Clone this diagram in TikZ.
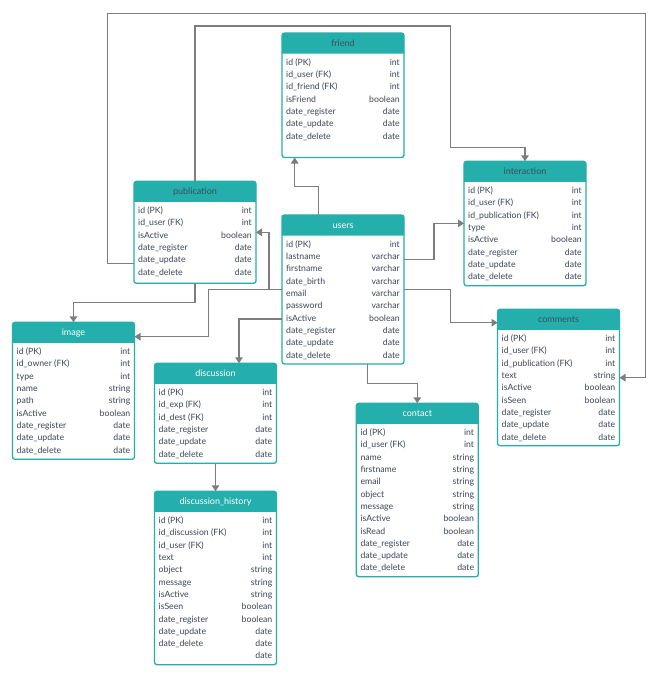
\documentclass[tikz,border=0pt]{standalone}
\usepackage{fontspec}
\setmainfont{Lato}
\usetikzlibrary{calc,arrows.meta}
\definecolor{tealhd}{HTML}{24AFAC}
\definecolor{bodytxt}{HTML}{3B4757}
\definecolor{darkhd}{HTML}{3E4C59}
\definecolor{conncol}{HTML}{7D7D7D}
\tikzset{
  tbl/.style={fill=white, minimum width=122pt, inner sep=0pt, outer sep=0pt, anchor=north west},
  tblborder/.style={draw=tealhd, line width=1.3pt, rounded corners=2.5pt},
  lcol/.style={anchor=west, inner sep=0pt, font=\fontsize{8.7}{10}\selectfont, text=bodytxt, text height=6.5pt, text depth=0.5pt},
  rcol/.style={anchor=east, inner sep=0pt, font=\fontsize{8.7}{10}\selectfont, text=bodytxt, text height=6.5pt, text depth=0.5pt},
  titlew/.style={inner sep=0pt, font=\fontsize{9}{10}\selectfont, text=white, text height=6.5pt, text depth=0.5pt},
  titled/.style={inner sep=0pt, font=\fontsize{9}{10}\selectfont, text=darkhd, text height=6.5pt, text depth=0.5pt},
  conn/.style={draw=conncol, line width=1.4pt, -{Triangle[length=6pt,width=7.5pt]}},
}
% #1 name, #2 x, #3 top, #4 height, #5 title style, #6 title, #7 rows
\newcommand\erdtable[7]{%
  \node[tbl, minimum height=#4pt] (#1) at (#2,#3) {};
  \fill[tealhd] ($(#1.north west)+(0,20.5)$) {[rounded corners=2.5pt] -- (#1.north west) -- (#1.north east)} -- ($(#1.north east)+(0,20.5)$) -- cycle;
  \draw[tblborder] (#1.north west) rectangle (#1.south east);
  \node[#5] (#1-title) at ($(#1.north)+(0,10.5)$) {#6};
  \foreach \l/\r [count=\i from 0] in {#7} {
    \node[lcol] (#1-l\i) at ($(#1.north west)+(4,29.3+12.3*\i)$) {\l};
    \node[rcol] (#1-r\i) at ($(#1.north east)+(-4,29.3+12.3*\i)$) {\r};
  }%
}
\begin{document}
\begin{tikzpicture}[x=1pt,y=-1pt]
\useasboundingbox[fill=white] (0,0) rectangle (659,678);

\erdtable{friend}{282}{33}{124.5}{titled}{friend}{id (PK)/int, id\_user (FK)/int, id\_friend (FK)/int, isFriend/boolean, date\_register/date, date\_update/date, date\_delete/date}
\erdtable{publication}{134}{181.3}{102}{titled}{publication}{id (PK)/int, id\_user (FK)/int, isActive/boolean, date\_register/date, date\_update/date, date\_delete/date}
\erdtable{users}{282}{215}{149}{titlew}{users}{id (PK)/int, lastname/varchar, firstname/varchar, date\_birth/varchar, email/varchar, password/varchar, isActive/boolean, date\_register/date, date\_update/date, date\_delete/date}
\erdtable{interaction}{464}{161.3}{124.4}{titled}{interaction}{id (PK)/int, id\_user (FK)/int, id\_publication (FK)/int, type/int, isActive/boolean, date\_register/date, date\_update/date, date\_delete/date}
\erdtable{image}{12.5}{322.3}{137}{titlew}{image}{id (PK)/int, id\_owner (FK)/int, type/int, name/string, path/string, isActive/boolean, date\_register/date, date\_update/date, date\_delete/date}
\erdtable{discussion}{154.5}{363.3}{100}{titlew}{discussion}{id (PK)/int, id\_exp (FK)/int, id\_dest (FK)/int, date\_register/date, date\_update/date, date\_delete/date}
\erdtable{comments}{497.5}{309.3}{136.4}{titled}{comments}{id (PK)/int, id\_user (FK)/int, id\_publication (FK)/int, text/string, isActive/boolean, isSeen/boolean, date\_register/date, date\_update/date, date\_delete/date}
\erdtable{contact}{356.3}{403.3}{173.4}{titlew}{contact}{id (PK)/int, id\_user (FK)/int, name/string, firstname/string, email/string, object/string, message/string, isActive/boolean, isRead/boolean, date\_register/date, date\_update/date, date\_delete/date}
\erdtable{dhistory}{154.5}{491.3}{173.4}{titlew}{discussion\_history}{id (PK)/int, id\_discussion (FK)/int, id\_user (FK)/int, text/int, object/string, message/string, isActive/string, isSeen/boolean, date\_register/boolean, date\_update/date, date\_delete/date, {}/date}

% connectors
\draw[conn] ($(users.north west)+(36.7,0)$) -- ++(0,-28.3) -| ($(friend.south west)+(12.7,0)$);
\draw[conn] (publication.north) -- ++(0,-155.3) -- ++(255.7,0) -- ++(0,121.7) -| (interaction.north);
\draw[conn] ($(publication.south west)+(0,-20)$) -- ++(-26.5,0) -- ++(0,-250) -- ++(538.2,0) |- ($(comments.north east)+(0,68.4)$);
\draw[conn] ($(users.north west)+(0,74.3)$) -| ($(publication.east)+(13,0)$) -- (publication.east);
\draw[conn] ($(users.north west)+(0,74.3)$) -| ($(image.north east)+(73.8,14.4)$) -- ($(image.north east)+(0,14.4)$);
\draw[conn] (publication.south) -- ++(0,19.4) -| (image.north);
\draw[conn] ($(users.north west)+(0,104)$) -| ($(discussion.north west)+(84.5,0)$);
\draw[conn] ($(users.north east)+(0,44.3)$) -| ($(interaction.north west)+(-30,62)$) -- ($(interaction.north west)+(0,62)$);
\draw[conn] ($(users.north east)+(0,74.3)$) -| ($(comments.north west)+(-46.8,13.4)$) -- ($(comments.north west)+(0,13.4)$);
\draw[conn] ($(users.south west)+(85.3,0)$) -- ++(0,19.3) -| (contact.north);
\draw[conn] (discussion.south) -- (dhistory.north);
\end{tikzpicture}
\end{document}
